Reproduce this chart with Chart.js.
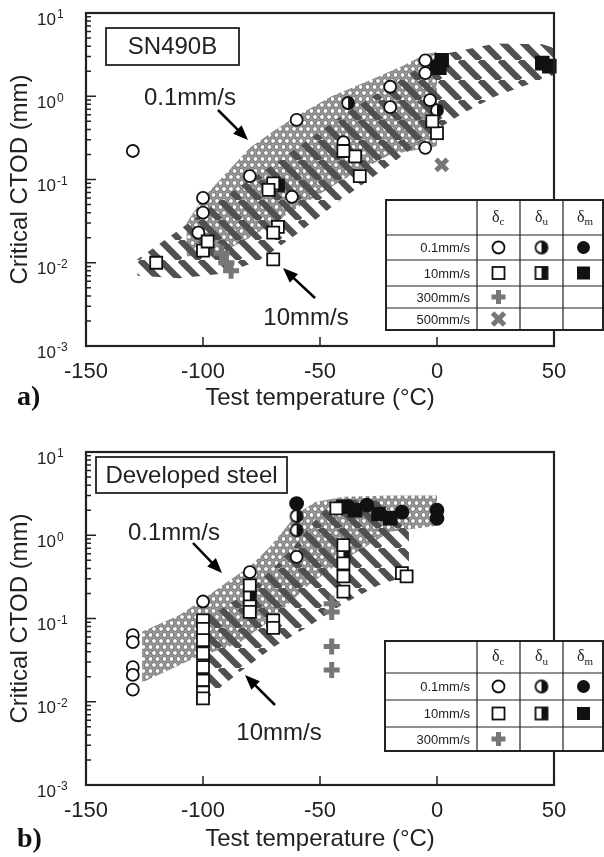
<!DOCTYPE html>
<html>
<head>
<meta charset="utf-8">
<script src="https://cdn.jsdelivr.net/npm/chart.js@4/dist/chart.umd.min.js"></script>
<style>
  body { margin: 0; background: #fff; }
  canvas { display: block; }
</style>
</head>
<body>
<canvas id="chartA" width="604" height="428"></canvas>
<canvas id="chartB" width="604" height="429"></canvas>
<script>
// ---- axis ticks ----
const xTicks = [-150, -100, -50, 0, 50];
const yDecades = [-3, -2, -1, 0, 1];

// ---- panel a) SN490B ----
const aCircT = [-130, -100, -100, -102, -80, -60, -62, -40, -20, -20, -5, -5, -3, -5];
const aCircV = [0.22, 0.06, 0.04, 0.023, 0.11, 0.52, 0.062, 0.28, 0.74, 1.3, 2.7, 1.9, 0.9, 0.24];
const aHalfCircT = [-38, 0];
const aHalfCircV = [0.83, 0.68];
const aDiscT = [0];
const aDiscV = [2.3];
const aSqT = [-120, -100, -98, -70, -72, -68, -70, -70, -35, -33, 0, -2, -40];
const aSqV = [0.01, 0.014, 0.018, 0.09, 0.075, 0.027, 0.023, 0.011, 0.19, 0.11, 0.36, 0.5, 0.22];
const aHalfSqT = [-68];
const aHalfSqV = [0.085];
const aFillSqT = [2, 1, 45, 48];
const aFillSqV = [2.7, 2.2, 2.5, 2.3];
const aPlusT = [-90, -92, -88];
const aPlusV = [0.01, 0.013, 0.008];
const aCrossT = [2];
const aCrossV = [0.15];
// scatter bands (closed outlines: upper edge then lower edge)
const aDotT = [-107, -100, -90, -80, -70, -60, -45, -30, -15, -5, 0, 0, -20, -40, -60, -80, -95, -107];
const aDotV = [0.03, 0.06, 0.12, 0.24, 0.38, 0.58, 1.0, 1.5, 2.3, 3.2, 3.4, 0.25, 0.2, 0.1, 0.045, 0.02, 0.012, 0.012];
const aStripeT = [-128, -110, -100, -85, -70, -55, -40, -25, -10, 5, 25, 45, 50, 50, 25, 10, 0, -20, -40, -60, -75, -90, -110, -128];
const aStripeV = [0.011, 0.025, 0.04, 0.08, 0.15, 0.3, 0.6, 1.1, 2.0, 3.3, 4.3, 4.2, 3.8, 1.8, 1.0, 0.6, 0.4, 0.15, 0.06, 0.022, 0.011, 0.0075, 0.0065, 0.007];

// ---- panel b) Developed steel ----
const bCircT = [-130, -130, -130, -130, -130, -100, -80, -60];
const bCircV = [0.063, 0.052, 0.026, 0.021, 0.014, 0.16, 0.36, 0.55];
const bHalfCircT = [-60, -60];
const bHalfCircV = [1.15, 1.7];
const bDiscT = [-60, -30, -15, 0, 0, -38];
const bDiscV = [2.4, 2.3, 1.9, 2.0, 1.6, 2.2];
const bSqT = [-100, -100, -100, -100, -100, -100, -100, -100, -80, -80, -80, -70, -70, -40, -40, -40, -40, -43, -15, -13];
const bSqV = [0.095, 0.075, 0.055, 0.038, 0.026, 0.018, 0.013, 0.011, 0.25, 0.14, 0.12, 0.095, 0.077, 0.76, 0.46, 0.32, 0.21, 2.1, 0.35, 0.32];
const bHalfSqT = [-80, -40];
const bHalfSqV = [0.18, 0.6];
const bFillSqT = [-40, -35, -25, -20];
const bFillSqV = [2.2, 2.0, 1.8, 1.6];
const bPlusT = [-45, -45, -45, -45];
const bPlusV = [0.15, 0.12, 0.046, 0.024];
const bDotT = [-126, -110, -100, -90, -80, -72, -66, -60, -52, -40, -20, 0, 0, -20, -40, -55, -70, -85, -104, -126];
const bDotV = [0.07, 0.11, 0.17, 0.27, 0.42, 0.7, 1.1, 1.8, 2.5, 2.9, 3.0, 3.0, 1.3, 1.1, 0.5, 0.25, 0.1, 0.05, 0.033, 0.017];
const bStripeT = [-103, -100, -90, -80, -70, -60, -50, -42, -25, -12, -12, -25, -40, -55, -70, -85, -100, -103];
const bStripeV = [0.01, 0.1, 0.14, 0.22, 0.4, 0.8, 1.8, 2.7, 2.6, 1.6, 0.33, 0.25, 0.15, 0.08, 0.045, 0.022, 0.01, 0.009];

// ---- legend tables ----
const aRowLabels = ['0.1mm/s', '10mm/s', '300mm/s', '500mm/s'];
const bRowLabels = ['0.1mm/s', '10mm/s', '300mm/s'];
const headSubs = ['c', 'u', 'm'];

const SANS = "'Liberation Sans', Arial, sans-serif";
const SERIF = "'Liberation Serif', 'Times New Roman', serif";

function pts(T, V) {
    return T.map((t, i) => ({ x: t, y: V[i] }));
}

// Little canvases for the half-filled symbols
function halfSymbol(kind) {
    const c = document.createElement('canvas');
    c.width = 16; c.height = 16;
    const g = c.getContext('2d');
    g.lineWidth = 1.8;
    g.strokeStyle = '#111';
    g.fillStyle = '#fff';
    if (kind === 'circle') {
        g.beginPath(); g.arc(8, 8, 6, 0, Math.PI * 2); g.fill(); g.stroke();
        g.fillStyle = '#111';
        g.beginPath(); g.arc(8, 8, 6, -Math.PI / 2, Math.PI / 2); g.fill();
    } else {
        g.fillRect(2, 2, 12, 12); g.strokeRect(2, 2, 12, 12);
        g.fillStyle = '#111';
        g.fillRect(8, 2, 6, 12);
    }
    return c;
}
const halfCircleImg = halfSymbol('circle');
const halfSquareImg = halfSymbol('square');

function dotPattern(ctx) {
    const c = document.createElement('canvas');
    c.width = 7; c.height = 12;
    const g = c.getContext('2d');
    g.fillStyle = '#9a9a9a';
    g.fillRect(0, 0, 7, 12);
    g.fillStyle = '#fff';
    g.strokeStyle = '#5a5a5a';
    g.lineWidth = 0.8;
    [[3.5, 3], [0, 9], [7, 9]].forEach(([x, y]) => {
        g.beginPath(); g.arc(x, y, 2.4, 0, Math.PI * 2); g.fill(); g.stroke();
    });
    return ctx.createPattern(c, 'repeat');
}

function stripePattern(ctx) {
    const s = 20;
    const c = document.createElement('canvas');
    c.width = s; c.height = s;
    const g = c.getContext('2d');
    g.strokeStyle = '#505050';
    g.lineWidth = 6.5;
    g.beginPath();
    [-1, 0, 1].forEach(k => { g.moveTo(k * s, 0); g.lineTo(k * s + s, s); });
    g.stroke();
    return ctx.createPattern(c, 'repeat');
}

function drawSymbol(ctx, kind, x, y) {
    ctx.save();
    ctx.lineWidth = 1.8;
    ctx.strokeStyle = '#111';
    ctx.fillStyle = '#fff';
    if (kind === 'circle') {
        ctx.beginPath(); ctx.arc(x, y, 6, 0, Math.PI * 2); ctx.fill(); ctx.stroke();
    } else if (kind === 'disc') {
        ctx.fillStyle = '#111';
        ctx.beginPath(); ctx.arc(x, y, 6.5, 0, Math.PI * 2); ctx.fill();
    } else if (kind === 'square') {
        ctx.fillRect(x - 6, y - 6, 12, 12); ctx.strokeRect(x - 6, y - 6, 12, 12);
    } else if (kind === 'fillSquare') {
        ctx.fillStyle = '#111'; ctx.fillRect(x - 6.5, y - 6.5, 13, 13);
    } else if (kind === 'halfCircle') {
        ctx.drawImage(halfCircleImg, x - 8, y - 8);
    } else if (kind === 'halfSquare') {
        ctx.drawImage(halfSquareImg, x - 8, y - 8);
    } else if (kind === 'plus' || kind === 'cross') {
        ctx.strokeStyle = '#777';
        ctx.lineWidth = 5;
        const r = kind === 'plus' ? 7 : 6;
        ctx.beginPath();
        if (kind === 'plus') {
            ctx.moveTo(x - r, y); ctx.lineTo(x + r, y); ctx.moveTo(x, y - r); ctx.lineTo(x, y + r);
        } else {
            ctx.moveTo(x - r, y - r); ctx.lineTo(x + r, y + r); ctx.moveTo(x + r, y - r); ctx.lineTo(x - r, y + r);
        }
        ctx.stroke();
    }
    ctx.restore();
}

function arrow(ctx, x1, y1, x2, y2) {
    const a = Math.atan2(y2 - y1, x2 - x1);
    const c = Math.cos(a), s = Math.sin(a);
    ctx.strokeStyle = '#000';
    ctx.fillStyle = '#000';
    ctx.lineWidth = 2.5;
    ctx.beginPath(); ctx.moveTo(x1, y1); ctx.lineTo(x2 - 10 * c, y2 - 10 * s); ctx.stroke();
    ctx.beginPath();
    ctx.moveTo(x2, y2);
    ctx.lineTo(x2 - 15 * c + 6 * s, y2 - 15 * s - 6 * c);
    ctx.lineTo(x2 - 15 * c - 6 * s, y2 - 15 * s + 6 * c);
    ctx.closePath(); ctx.fill();
}

// Frame, inward ticks, power-of-ten labels, notes and the symbol table
const decorPlugin = {
    id: 'decor',
    afterDraw(chart, args, o) {
        const ctx = chart.ctx;
        const a = chart.chartArea;
        const xs = chart.scales.x, ys = chart.scales.y;
        ctx.save();

        ctx.strokeStyle = '#222';
        ctx.lineWidth = 1.5;
        ctx.beginPath();
        xTicks.slice(1).forEach(t => {
            const x = xs.getPixelForValue(t);
            ctx.moveTo(x, a.bottom); ctx.lineTo(x, a.bottom - 9);
        });
        yDecades.forEach(e => {
            for (let m = 1; m <= 9; m++) {
                const v = m * Math.pow(10, e);
                if (v > 10) break;
                const y = ys.getPixelForValue(v);
                ctx.moveTo(a.left, y); ctx.lineTo(a.left + (m === 1 ? 10 : 5), y);
            }
        });
        ctx.stroke();

        ctx.lineWidth = 2.2;
        ctx.strokeRect(a.left, a.top, a.right - a.left, a.bottom - a.top);

        // y tick labels: 10 with raised exponent
        ctx.fillStyle = '#222';
        ctx.textBaseline = 'middle';
        yDecades.forEach(e => {
            const y = ys.getPixelForValue(Math.pow(10, e));
            ctx.font = '17px ' + SANS;
            ctx.textAlign = 'right';
            ctx.fillText('10', a.left - 30, y + 7);
            ctx.font = '12px ' + SANS;
            ctx.textAlign = 'left';
            ctx.fillText(String(e), a.left - 29, y + 2);
        });

        // material label box
        const b = o.box;
        ctx.lineWidth = 1.8;
        ctx.strokeRect(a.left + b.x, a.top + b.y, b.w, b.h);
        ctx.font = '24px ' + SANS;
        ctx.textAlign = 'center';
        ctx.fillText(b.text, a.left + b.x + b.w / 2, a.top + b.y + b.h / 2 + 1);

        // loading-rate notes with arrows
        o.notes.forEach(n => {
            ctx.fillStyle = '#222';
            ctx.font = '24px ' + SANS;
            ctx.textAlign = 'center';
            ctx.fillText(n.text, a.left + n.x, a.top + n.y);
            arrow(ctx, a.left + n.from[0], a.top + n.from[1], a.left + n.to[0], a.top + n.to[1]);
        });

        // symbol table
        const tb = o.table;
        const cols = tb.cols, rows = tb.rows;
        ctx.fillStyle = '#fff';
        ctx.fillRect(cols[0], rows[0], cols[cols.length - 1] - cols[0], rows[rows.length - 1] - rows[0]);
        ctx.strokeStyle = '#222';
        ctx.lineWidth = 1.2;
        ctx.beginPath();
        cols.slice(1, -1).forEach(x => { ctx.moveTo(x, rows[0]); ctx.lineTo(x, rows[rows.length - 1]); });
        rows.slice(1, -1).forEach(y => { ctx.moveTo(cols[0], y); ctx.lineTo(cols[cols.length - 1], y); });
        ctx.stroke();
        ctx.lineWidth = 2;
        ctx.strokeRect(cols[0], rows[0], cols[cols.length - 1] - cols[0] - 1, rows[rows.length - 1] - rows[0]);

        ctx.fillStyle = '#222';
        headSubs.forEach((s, i) => {
            const cx = (cols[i + 1] + cols[i + 2]) / 2;
            const cy = (rows[0] + rows[1]) / 2;
            ctx.textAlign = 'right';
            ctx.font = '16px ' + SERIF;
            ctx.fillText('δ', cx + 1, cy);
            ctx.textAlign = 'left';
            ctx.font = '11px ' + SERIF;
            ctx.fillText(s, cx + 1, cy + 5);
        });
        tb.labels.forEach((lab, r) => {
            const cy = (rows[r + 1] + rows[r + 2]) / 2;
            ctx.fillStyle = '#222';
            ctx.font = '13px ' + SANS;
            ctx.textAlign = 'right';
            ctx.fillText(lab, cols[1] - 7, cy + 1);
            tb.symbols[r].forEach((kind, c) => {
                if (kind) drawSymbol(ctx, kind, (cols[c + 1] + cols[c + 2]) / 2, cy);
            });
        });

        // panel letter
        ctx.fillStyle = '#111';
        ctx.font = 'bold 28px ' + SERIF;
        ctx.textAlign = 'left';
        ctx.fillText(o.panel.text, o.panel.x, o.panel.y);
        ctx.restore();
    }
};

function pointSet(T, V, style) {
    return Object.assign({
        data: pts(T, V),
        order: 0,
        clip: 10,
        pointBorderColor: '#111',
        pointBackgroundColor: '#fff',
        pointBorderWidth: 1.8
    }, style);
}

function createPanel(canvasId, s) {
    const ctx = document.getElementById(canvasId).getContext('2d');
    const datasets = [
        {
            data: pts(s.dotT, s.dotV), showLine: true, fill: 'shape', order: 3,
            backgroundColor: dotPattern(ctx), borderColor: 'rgba(0,0,0,0)', borderWidth: 0,
            pointRadius: 0, tension: 0
        },
        {
            data: pts(s.stripeT, s.stripeV), showLine: true, fill: 'shape', order: 2,
            backgroundColor: stripePattern(ctx), borderColor: 'rgba(0,0,0,0)', borderWidth: 0,
            pointRadius: 0, tension: 0
        },
        pointSet(s.sqT, s.sqV, { pointStyle: 'rect', pointRadius: 8.5 }),
        pointSet(s.halfSqT, s.halfSqV, { pointStyle: halfSquareImg }),
        pointSet(s.fillSqT, s.fillSqV, { pointStyle: 'rect', pointRadius: 9, pointBackgroundColor: '#111' }),
        pointSet(s.circT, s.circV, { pointStyle: 'circle', pointRadius: 6 }),
        pointSet(s.halfCircT, s.halfCircV, { pointStyle: halfCircleImg }),
        pointSet(s.discT, s.discV, { pointStyle: 'circle', pointRadius: 6.5, pointBackgroundColor: '#111' }),
        pointSet(s.plusT, s.plusV, { pointStyle: 'cross', pointRadius: 8, pointBorderColor: '#777', pointBorderWidth: 5 })
    ];
    if (s.crossT) {
        datasets.push(pointSet(s.crossT, s.crossV, { pointStyle: 'crossRot', pointRadius: 8, pointBorderColor: '#777', pointBorderWidth: 5 }));
    }

    return new Chart(ctx, {
        type: 'scatter',
        data: { datasets },
        options: {
            responsive: false,
            animation: false,
            layout: { padding: { left: 0, top: s.padTop, right: 50, bottom: 0 } },
            plugins: {
                legend: { display: false },
                tooltip: { enabled: false },
                decor: s.decor
            },
            scales: {
                x: {
                    type: 'linear',
                    min: -150,
                    max: 50,
                    afterBuildTicks: (scale) => { scale.ticks = xTicks.map(v => ({ value: v })); },
                    afterFit: (scale) => { scale.height = s.xAxisHeight; },
                    grid: { display: false, drawTicks: false },
                    border: { display: false },
                    ticks: { color: '#222', padding: 13, font: { size: 22, family: SANS } },
                    title: {
                        display: true,
                        text: 'Test temperature (°C)',
                        color: '#222',
                        font: { size: 24, family: SANS },
                        padding: { top: 0, bottom: s.titlePad }
                    }
                },
                y: {
                    type: 'logarithmic',
                    min: 0.001,
                    max: 10,
                    afterFit: (scale) => { scale.width = 86; },
                    grid: { display: false, drawTicks: false },
                    border: { display: false },
                    ticks: { display: false },
                    title: {
                        display: true,
                        text: 'Critical CTOD (mm)',
                        color: '#222',
                        font: { size: 24, family: SANS },
                        padding: { top: 6, bottom: 0 }
                    }
                }
            }
        },
        plugins: [decorPlugin]
    });
}

createPanel('chartA', {
    circT: aCircT, circV: aCircV, halfCircT: aHalfCircT, halfCircV: aHalfCircV,
    discT: aDiscT, discV: aDiscV, sqT: aSqT, sqV: aSqV, halfSqT: aHalfSqT, halfSqV: aHalfSqV,
    fillSqT: aFillSqT, fillSqV: aFillSqV, plusT: aPlusT, plusV: aPlusV, crossT: aCrossT, crossV: aCrossV,
    dotT: aDotT, dotV: aDotV, stripeT: aStripeT, stripeV: aStripeV,
    padTop: 13, xAxisHeight: 82, titlePad: 15,
    decor: {
        box: { text: 'SN490B', x: 20, y: 15, w: 133, h: 37 },
        notes: [
            { text: '0.1mm/s', x: 104, y: 85, from: [132, 97], to: [162, 127] },
            { text: '10mm/s', x: 220, y: 305, from: [229, 285], to: [197, 255] }
        ],
        table: {
            cols: [386, 477, 520, 563, 604],
            rows: [200, 235, 260, 286, 308, 330],
            labels: aRowLabels,
            symbols: [['circle', 'halfCircle', 'disc'], ['square', 'halfSquare', 'fillSquare'], ['plus', null, null], ['cross', null, null]]
        },
        panel: { text: 'a)', x: 17, y: 398 }
    }
});

createPanel('chartB', {
    circT: bCircT, circV: bCircV, halfCircT: bHalfCircT, halfCircV: bHalfCircV,
    discT: bDiscT, discV: bDiscV, sqT: bSqT, sqV: bSqV, halfSqT: bHalfSqT, halfSqV: bHalfSqV,
    fillSqT: bFillSqT, fillSqV: bFillSqV, plusT: bPlusT, plusV: bPlusV,
    dotT: bDotT, dotV: bDotV, stripeT: bStripeT, stripeV: bStripeV,
    padTop: 24, xAxisHeight: 72, titlePad: 3,
    decor: {
        box: { text: 'Developed steel', x: 10, y: 5, w: 191, h: 36 },
        notes: [
            { text: '0.1mm/s', x: 88, y: 81, from: [107, 91], to: [136, 121] },
            { text: '10mm/s', x: 193, y: 281, from: [189, 253], to: [159, 223] }
        ],
        table: {
            cols: [385, 477, 520, 563, 604],
            rows: [213, 245, 272, 299, 323],
            labels: bRowLabels,
            symbols: [['circle', 'halfCircle', 'disc'], ['square', 'halfSquare', 'fillSquare'], ['plus', null, null]]
        },
        panel: { text: 'b)', x: 17, y: 412 }
    }
});
</script>
</body>
</html>
